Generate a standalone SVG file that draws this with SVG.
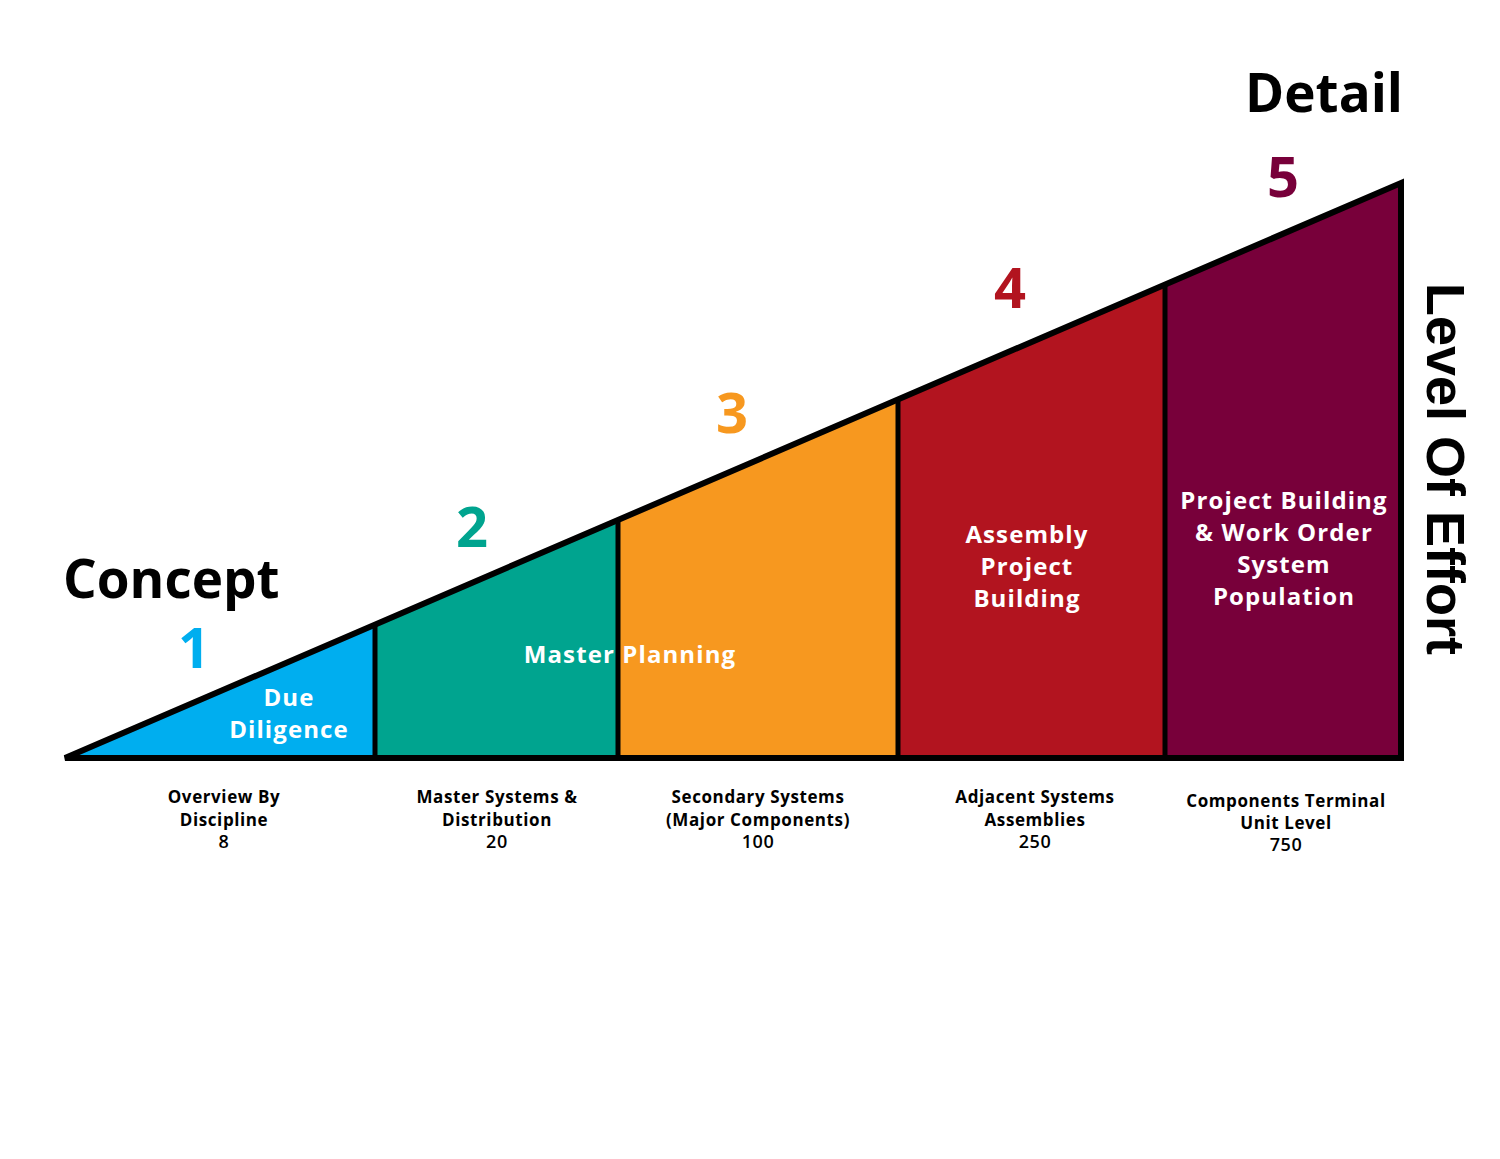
<svg xmlns="http://www.w3.org/2000/svg" width="1500" height="1159" viewBox="0 0 1500 1159">
<style>
.lbl{font-family:"Open Sans","Noto Sans",sans-serif;font-weight:700;fill:#fff;font-size:24px;letter-spacing:1.1px;text-anchor:middle}
.sub{font-family:"Open Sans","Noto Sans",sans-serif;font-weight:700;fill:#000;font-size:17px;letter-spacing:0.6px;text-anchor:middle}
.val{font-family:"Open Sans","Noto Sans",sans-serif;font-weight:600;fill:#000;font-size:18px;letter-spacing:0.6px;text-anchor:middle}
.num{font-family:"Open Sans","Noto Sans",sans-serif;font-weight:700;font-size:56px;text-anchor:middle}
.big{font-family:"Open Sans","Noto Sans",sans-serif;font-weight:700;font-size:53px;fill:#000}
.div{stroke:#000;stroke-width:5;fill:none}
</style>
<rect width="1500" height="1159" fill="#fff"/>
<g id="stage1">
<polygon points="65,758 375,625 375,758" fill="#00AEEF"/>
<text class="num" x="194" y="668" fill="#00AEEF">1</text>
<text class="lbl" x="289" y="706">Due</text>
<text class="lbl" x="289" y="738">Diligence</text>
<text class="sub" x="224" y="803">Overview By</text>
<text class="sub" x="224" y="826">Discipline</text>
<text class="val" x="224" y="848">8</text>
</g>
<g id="stage2">
<polygon points="375,625 618,520 618,758 375,758" fill="#00A48F"/>
<text class="num" x="472" y="547" fill="#00A48F">2</text>
<text class="sub" x="497" y="803">Master Systems &amp;</text>
<text class="sub" x="497" y="826">Distribution</text>
<text class="val" x="497" y="848">20</text>
</g>
<g id="stage3">
<polygon points="618,520 898,400 898,758 618,758" fill="#F7981F"/>
<text class="num" x="732" y="433" fill="#F7981F">3</text>
<text class="sub" x="758" y="803">Secondary Systems</text>
<text class="sub" x="758" y="826">(Major Components)</text>
<text class="val" x="758" y="848">100</text>
</g>
<g id="stage4">
<polygon points="898,400 1165,285 1165,758 898,758" fill="#B2141F"/>
<text class="num" x="1010" y="308" fill="#B2141F">4</text>
<text class="lbl" x="1027" y="543">Assembly</text>
<text class="lbl" x="1027" y="575">Project</text>
<text class="lbl" x="1027" y="607">Building</text>
<text class="sub" x="1035" y="803">Adjacent Systems</text>
<text class="sub" x="1035" y="826">Assemblies</text>
<text class="val" x="1035" y="848">250</text>
</g>
<g id="stage5">
<polygon points="1165,285 1401,183 1401,758 1165,758" fill="#78003A"/>
<text class="num" x="1283" y="197" fill="#78003A">5</text>
<text class="lbl" x="1284" y="509">Project Building</text>
<text class="lbl" x="1284" y="541">&amp; Work Order</text>
<text class="lbl" x="1284" y="573">System</text>
<text class="lbl" x="1284" y="605">Population</text>
<text class="sub" x="1286" y="807">Components Terminal</text>
<text class="sub" x="1286" y="829">Unit Level</text>
<text class="val" x="1286" y="851">750</text>
</g>
<g id="master-planning">
<text class="lbl" x="630" y="663">Master Planning</text>
</g>
<g id="connectors">
<polygon points="65,758 1401,183 1401,758" fill="none" stroke="#000" stroke-width="6" stroke-linejoin="miter"/>
<line class="div" x1="375" y1="624" x2="375" y2="758"/>
<line class="div" x1="618" y1="519" x2="618" y2="758"/>
<line class="div" x1="898" y1="399" x2="898" y2="758"/>
<line class="div" x1="1165" y1="284" x2="1165" y2="758"/>
</g>
<g id="titles">
<text class="big" x="63" y="598">Concept</text>
<text class="big" x="1403" y="112" text-anchor="end">Detail</text>
<text transform="translate(1427,283) rotate(90)" font-family="'Liberation Sans',Arial,sans-serif" font-weight="700" font-size="54" fill="#000">Level Of Effort</text>
</g>
</svg>
